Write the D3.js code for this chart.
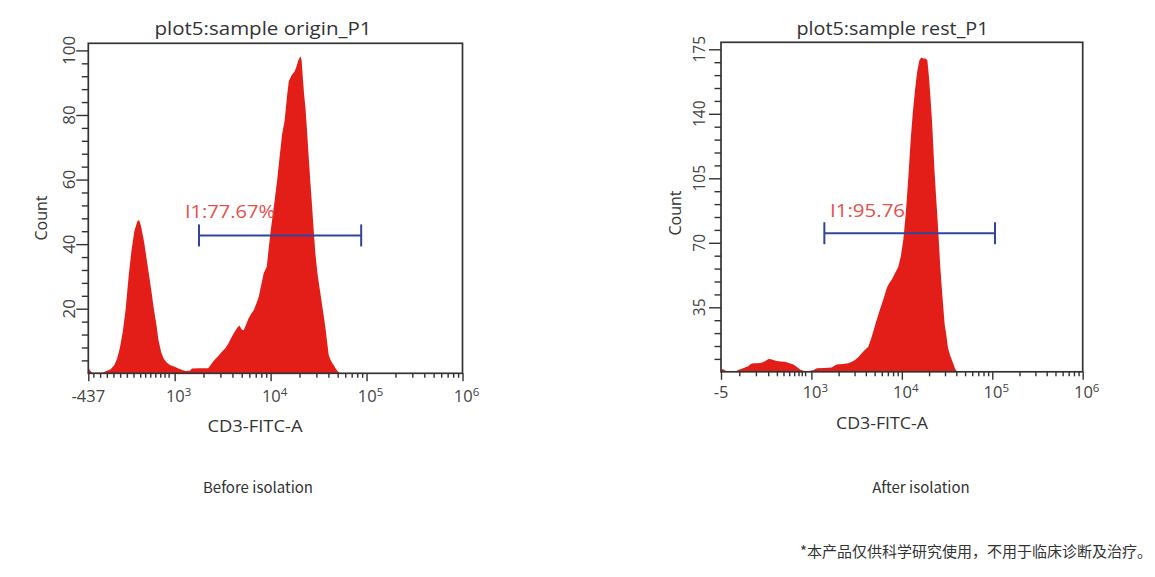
<!DOCTYPE html>
<html>
<head>
<meta charset="utf-8">
<script src="https://cdn.jsdelivr.net/npm/d3@7"></script>
<style>
	body { margin: 0; background: #fff; }
	svg text { font-family: "Open Sans", "Noto Sans", sans-serif; fill: #333; }
</style>
</head>
<body>
<svg id="chart" width="1155" height="577"></svg>
<script>

// histogram before isolation, x is the log10 position on the FITC axis
var originX = [2.100, 2.115, 2.140, 2.250, 2.280, 2.330, 2.370, 2.400, 2.430, 2.460, 2.490, 2.520, 2.550, 2.580, 2.610, 2.630, 2.650, 2.680, 2.710, 2.730, 2.760, 2.780, 2.810, 2.830, 2.860, 2.885, 2.920, 2.955, 3.000, 3.040, 3.080, 3.110, 3.160, 3.180, 3.260, 3.350, 3.380, 3.410, 3.450, 3.490, 3.530, 3.560, 3.590, 3.615, 3.650, 3.675, 3.700, 3.720, 3.750, 3.770, 3.800, 3.824, 3.850, 3.876, 3.900, 3.928, 3.960, 3.985, 4.000, 4.020, 4.040, 4.068, 4.090, 4.120, 4.145, 4.172, 4.190, 4.224, 4.250, 4.270, 4.290, 4.311, 4.323, 4.335, 4.350, 4.363, 4.380, 4.397, 4.415, 4.433, 4.450, 4.467, 4.490, 4.519, 4.545, 4.571, 4.590, 4.606, 4.630, 4.658, 4.685, 4.710, 4.730];
var originCount = [2.0, 1.0, 0.2, 0.2, 0.6, 1.2, 2.5, 4.5, 8, 13, 20, 30, 38, 44, 47, 47.5, 45.5, 41, 35, 31, 25, 20.5, 15, 10.5, 6.5, 4.6, 3.3, 2.5, 2.0, 1.5, 1.0, 0.7, 0.8, 1.5, 1.6, 1.6, 2.8, 4, 5.2, 6.6, 7.8, 9.2, 11, 12.3, 14, 14.8, 13.5, 13.3, 15.5, 17, 18.5, 19.5, 21.5, 23.6, 27, 31, 33, 40, 44, 48.5, 53, 59.8, 66, 74, 78, 86, 90.5, 92.5, 93.5, 95, 97, 98.2, 97, 92, 86, 82.4, 75, 67, 59, 51.5, 44, 37, 30.5, 24.7, 19.5, 14.3, 9.5, 5.6, 3.8, 2.5, 1.2, 0.3, 0];

// histogram after isolation
var restX = [2.000, 2.030, 2.060, 2.160, 2.190, 2.230, 2.265, 2.300, 2.330, 2.357, 2.400, 2.450, 2.490, 2.531, 2.570, 2.616, 2.660, 2.708, 2.750, 2.800, 2.840, 2.874, 2.920, 2.966, 3.020, 3.060, 3.140, 3.225, 3.250, 3.280, 3.350, 3.408, 3.450, 3.482, 3.520, 3.556, 3.590, 3.629, 3.660, 3.685, 3.720, 3.759, 3.800, 3.833, 3.860, 3.888, 3.930, 3.961, 3.990, 4.017, 4.040, 4.054, 4.075, 4.098, 4.120, 4.146, 4.170, 4.194, 4.215, 4.238, 4.260, 4.282, 4.300, 4.312, 4.335, 4.360, 4.375, 4.393, 4.410, 4.425, 4.441, 4.460, 4.475, 4.489, 4.510, 4.533, 4.570, 4.590, 4.610, 4.630];
var restCount = [1.5, 1.2, 0.3, 0.2, 1.0, 1.6, 2.4, 3.0, 4.3, 4.6, 4.7, 4.9, 5.8, 7.1, 6.6, 5.9, 5.6, 5.5, 4.8, 4.0, 2.6, 1.2, 0.5, 0.5, 0.8, 1.9, 2.1, 2.4, 3.2, 4.0, 4.3, 4.6, 5.5, 6.4, 8, 10, 11.8, 13.6, 18, 22, 28, 34, 40, 45.5, 48, 50, 54, 57, 63, 72, 84, 93, 108, 126, 140, 153, 163, 169, 170.5, 170, 170, 169, 160, 152, 135, 110, 98, 84, 70, 57, 46, 34, 25, 21, 13, 9, 4.2, 1.5, 0.3, 0];

// axis ticks (log10 positions) and their labels
var originXTicks = [2.1, 3, 4, 5, 6];
var originXLabels = ["-437", "10^3", "10^4", "10^5", "10^6"];
var originLowMinor = [2.153, 2.223, 2.293, 2.362, 2.432, 2.502, 2.571, 2.641, 2.693, 2.746, 2.798, 2.850, 2.895, 2.937];
var restXTicks = [2, 3, 4, 5, 6];
var restXLabels = ["-5", "10^3", "10^4", "10^5", "10^6"];
var restLowMinor = [2.202, 2.386, 2.522, 2.618, 2.691, 2.754, 2.809, 2.857, 2.893, 2.930];

var originYTicks = [20, 40, 60, 80, 100];
var originYStep = 4;
var restYTicks = [35, 70, 105, 140, 175];
var restYStep = 7;

// gates: [from, to, count]
var originGate = [3.254, 4.944, 42.7];
var originGateLabel = "I1:77.67%";
var originGateText = [3.108, 48.1];
var restGate = [3.143, 5.03, 75.2];
var restGateLabel = "I1:95.76";
var restGateText = [3.206, 84.2];

var originTitle = "plot5:sample origin_P1";
var restTitle = "plot5:sample rest_P1";
var xTitle = "CD3-FITC-A";
var yTitle = "Count";
var captions = ["Before isolation", "After isolation"];
var footnote = "*本产品仅供科学研究使用，不用于临床诊断及治疗。";

var svg = d3.select("#chart");

var fillColor = "#e31e19";
var gateColor = "#33449c";
var labelColor = "#e4504a";
var axisColor = "#333";

// draws one histogram panel
function drawPanel(p){
	var g = svg.append("g");

	var x = d3.scaleLinear().domain(p.xDomain).range([p.left, p.right]);
	var y = d3.scaleLinear().domain([0, p.yMax]).range([p.bottom, p.top]);

	var data = p.xs.map(function(v, i){ return [v, p.counts[i]]; });

	var area = d3.area()
		.x(function(d){ return x(d[0]); })
		.y0(y(0))
		.y1(function(d){ return y(d[1]); });

	g.append("path")
		.datum(data)
		.attr("d", area)
		.attr("fill", fillColor);

	// minor ticks for x: the low region + log ticks of each decade
	var minorX = p.lowMinor.slice();
	for (var dec = 3; dec < 6; dec++){
		for (var k = 2; k < 10; k++){
			minorX.push(dec + Math.log10(k));
		}
	}

	var xMinor = d3.axisBottom(x).tickValues(minorX).tickSize(4.5).tickFormat("");
	var xMajor = d3.axisBottom(x).tickValues(p.xTicks).tickSize(8).tickFormat("");
	[xMinor, xMajor].forEach(function(ax){
		var a = g.append("g").attr("transform", "translate(0," + p.bottom + ")").call(ax);
		a.select(".domain").remove();
		a.selectAll("line").attr("stroke", axisColor).attr("stroke-width", 1.4);
	});

	// y minor ticks
	var minorY = [];
	for (var v = p.yStep; v <= p.yMax; v += p.yStep){
		if (p.yTicks.indexOf(v) < 0) minorY.push(v);
	}
	var yMinor = d3.axisLeft(y).tickValues(minorY).tickSize(6.5).tickFormat("");
	var yMajor = d3.axisLeft(y).tickValues(p.yTicks).tickSize(12).tickFormat("");
	[yMinor, yMajor].forEach(function(ax){
		var a = g.append("g").attr("transform", "translate(" + p.left + ",0)").call(ax);
		a.select(".domain").remove();
		a.selectAll("line").attr("stroke", axisColor).attr("stroke-width", 1.4);
	});

	// frame
	g.append("rect")
		.attr("x", p.left).attr("y", p.top)
		.attr("width", p.right - p.left).attr("height", p.bottom - p.top)
		.attr("fill", "none")
		.attr("stroke", axisColor)
		.attr("stroke-width", 1.7);

	// x tick labels with superscripts
	p.xTicks.forEach(function(t, i){
		var parts = p.xLabels[i].split("^");
		var txt = g.append("text")
			.attr("x", x(t) + (parts.length > 1 ? 4 : 0))
			.attr("y", p.xLabelY)
			.attr("text-anchor", "middle")
			.style("font-size", "16.5px")
			.style("fill", "#444");
		txt.append("tspan").text(parts[0]);
		if (parts.length > 1){
			txt.append("tspan")
				.attr("dy", -6)
				.style("font-size", "11.5px")
				.text(parts[1]);
		}
	});

	// y tick labels, rotated
	p.yTicks.forEach(function(t){
		g.append("text")
			.attr("transform", "translate(" + p.yLabelX + "," + y(t) + ") rotate(-90)")
			.attr("text-anchor", "middle")
			.style("font-size", p.yFont + "px")
			.style("fill", "#444")
			.text(t);
	});

	// titles
	g.append("text")
		.attr("x", p.titleX).attr("y", 35)
		.attr("text-anchor", "middle")
		.attr("textLength", p.titleW)
		.attr("lengthAdjust", "spacingAndGlyphs")
		.style("font-size", "18px")
		.text(p.title);

	g.append("text")
		.attr("x", p.xTitleX).attr("y", p.xTitleY)
		.attr("text-anchor", "middle")
		.attr("textLength", p.xTitleW)
		.attr("lengthAdjust", "spacingAndGlyphs")
		.style("font-size", "16px")
		.text(xTitle);

	g.append("text")
		.attr("transform", "translate(" + p.yTitleX + "," + p.yTitleY + ") rotate(-90)")
		.attr("text-anchor", "middle")
		.style("font-size", "16px")
		.text(yTitle);

	// gate
	var gx1 = x(p.gate[0]), gx2 = x(p.gate[1]), gy = y(p.gate[2]);
	g.append("line")
		.attr("x1", gx1).attr("x2", gx2).attr("y1", gy).attr("y2", gy)
		.attr("stroke", gateColor).attr("stroke-width", 2);
	[gx1, gx2].forEach(function(cx){
		g.append("line")
			.attr("x1", cx).attr("x2", cx).attr("y1", gy - 11).attr("y2", gy + 11)
			.attr("stroke", gateColor).attr("stroke-width", 2);
	});
	g.append("text")
		.attr("x", x(p.gateText[0])).attr("y", y(p.gateText[1]))
		.attr("textLength", p.gateW)
		.attr("lengthAdjust", "spacingAndGlyphs")
		.style("font-size", "18px")
		.style("fill", labelColor)
		.text(p.gateLabel);

	// caption below
	g.append("text")
		.attr("x", p.captionX).attr("y", 493)
		.attr("text-anchor", "middle")
		.style("font-family", "'Noto Sans CJK SC', sans-serif")
		.style("font-size", "15px")
		.text(p.caption);
}

drawPanel({
	left: 88.3, right: 462.5, top: 43.3, bottom: 373.3,
	xDomain: [2.1, 6], yMax: 102.2,
	xs: originX, counts: originCount,
	xTicks: originXTicks, xLabels: originXLabels, lowMinor: originLowMinor,
	yTicks: originYTicks, yStep: originYStep,
	xLabelY: 401.5, yLabelX: 75, yFont: 17,
	title: originTitle, titleX: 263, titleW: 217,
	xTitleX: 255, xTitleY: 431.5, xTitleW: 95,
	yTitleX: 47, yTitleY: 218,
	gate: originGate, gateText: originGateText, gateLabel: originGateLabel, gateW: 90,
	caption: captions[0], captionX: 258
});

drawPanel({
	left: 721, right: 1082.7, top: 42.3, bottom: 371.8,
	xDomain: [2, 6], yMax: 178.8,
	xs: restX, counts: restCount,
	xTicks: restXTicks, xLabels: restXLabels, lowMinor: restLowMinor,
	yTicks: restYTicks, yStep: restYStep,
	xLabelY: 397.5, yLabelX: 705, yFont: 15.5,
	title: restTitle, titleX: 892.5, titleW: 192,
	xTitleX: 882, xTitleY: 429, xTitleW: 92,
	yTitleX: 681, yTitleY: 213,
	gate: restGate, gateText: restGateText, gateLabel: restGateLabel, gateW: 75,
	caption: captions[1], captionX: 921
});

svg.append("text")
	.attr("x", 1152).attr("y", 557)
	.attr("text-anchor", "end")
	.style("font-family", "'Noto Sans CJK SC', sans-serif")
	.style("font-size", "15px")
	.text(footnote);

</script>
</body>
</html>
